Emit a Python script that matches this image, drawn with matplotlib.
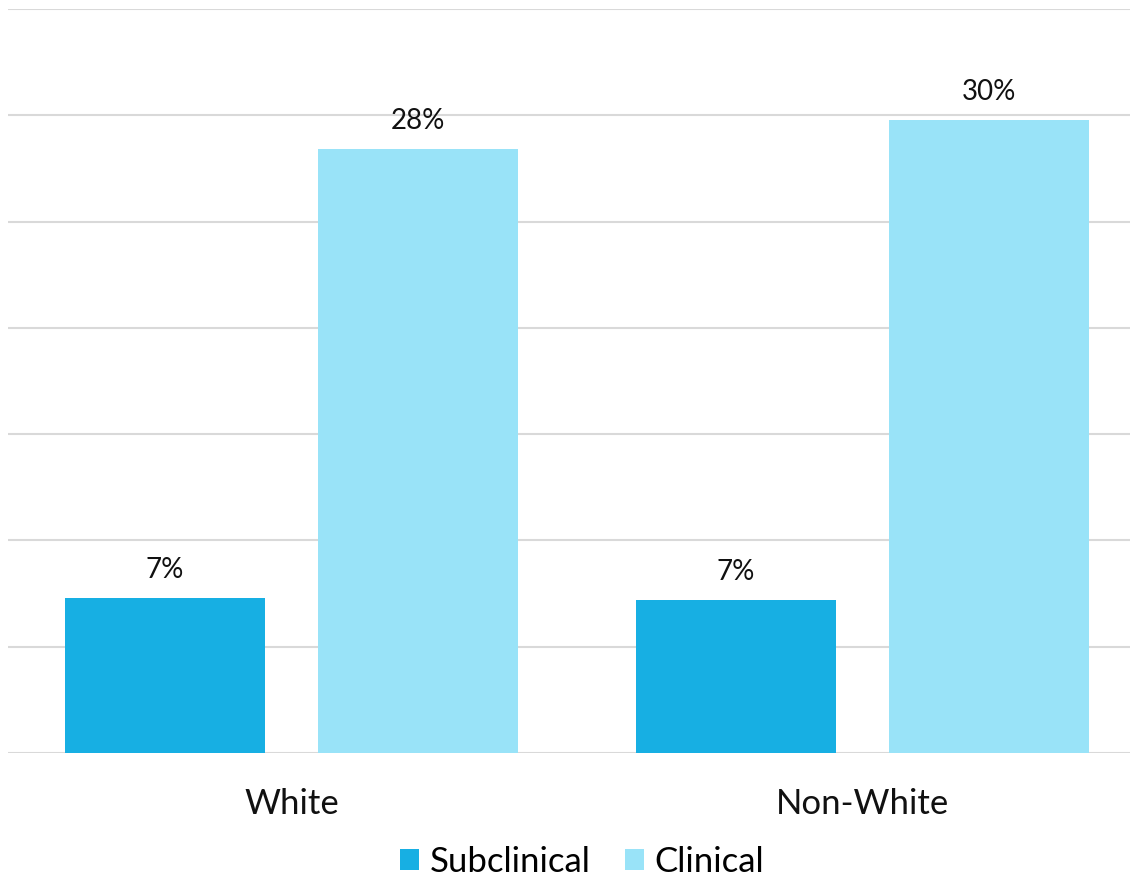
import matplotlib
matplotlib.use("Agg")
import matplotlib.pyplot as plt
import numpy as np

plt.rcParams['font.family'] = ['Lato', 'DejaVu Sans']

# data
groups = ["White", "Non-White"]
series = ["Subclinical", "Clinical"]
subclinical = [7.3, 7.2]
clinical = [28.4, 29.8]
colors = ["#17AFE3", "#99E3F8"]

fig = plt.figure(figsize=(11.37, 8.8), dpi=100)
ax = fig.add_axes([8 / 1137, 1 - 753 / 880, 1122 / 1137, 744 / 880])

x = np.arange(len(groups))
width = 0.35
offset = 0.2215

b1 = ax.bar(x - offset, subclinical, width, color=colors[0], label=series[0], zorder=3)
b2 = ax.bar(x + offset, clinical, width, color=colors[1], label=series[1], zorder=3)

for bars, vals in [(b1, subclinical), (b2, clinical)]:
    for rect, v in zip(bars, vals):
        ax.text(rect.get_x() + rect.get_width() / 2, rect.get_height() + 0.7,
                f"{round(v)}%", ha="center", va="bottom", fontsize=20, color="#111111")

ax.set_xlim(-0.4965, 1.4685)
ax.set_ylim(0, 35)
ax.set_yticks(np.arange(0, 36, 5))
ax.yaxis.grid(True, color="#D9D9D9", linewidth=1.5, zorder=0)
ax.tick_params(axis="y", left=False, labelleft=False)
ax.tick_params(axis="x", bottom=False, pad=22)
ax.set_xticks(x)
ax.set_xticklabels(groups, fontsize=25, color="#111111")
for s in ax.spines.values():
    s.set_visible(False)

fig.legend(loc="center", bbox_to_anchor=(0.512, 1 - 862 / 880), ncol=2, frameon=False,
           fontsize=25, handlelength=0.55, handleheight=0.55, handletextpad=0.3,
           columnspacing=1.0)

fig.savefig("out.png", dpi=100)
